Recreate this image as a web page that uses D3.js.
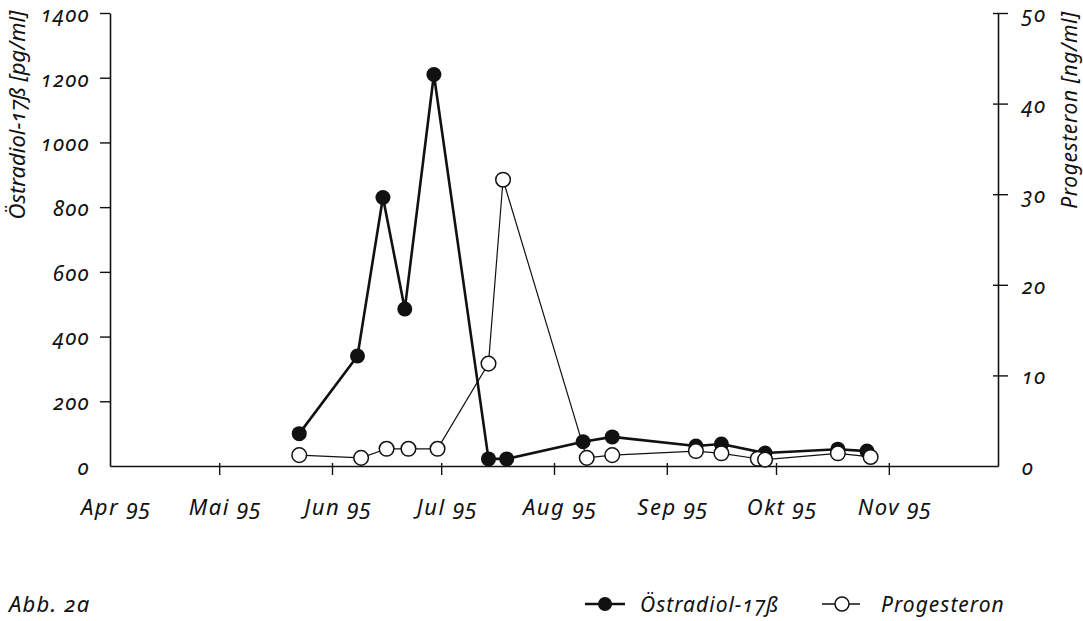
<!doctype html>
<html>
<head>
<meta charset="utf-8">
<script src="https://d3js.org/d3.v7.min.js"></script>
<style>
body { margin: 0; background: #fff; }
svg text { font-family: "Noto Sans", "Open Sans", sans-serif; font-style: italic; font-variant-numeric: oldstyle-nums; fill: #111; }
</style>
</head>
<body>
<svg id="chart" width="1083" height="621"></svg>
<script>
// data (dates 1995)
var oestDates = ["1995-05-23","1995-06-08","1995-06-15","1995-06-21","1995-06-29","1995-07-14","1995-07-19",
                 "1995-08-09","1995-08-17","1995-09-09","1995-09-16","1995-09-28","1995-10-18","1995-10-26"];
var oestValues = [100, 340, 830, 485, 1210, 22, 22, 75, 90, 62, 68, 40, 52, 46];

var progDates = ["1995-05-23","1995-06-09","1995-06-16","1995-06-22","1995-06-30","1995-07-14","1995-07-18",
                 "1995-08-10","1995-08-17","1995-09-09","1995-09-16","1995-09-26","1995-09-28","1995-10-18","1995-10-27"];
var progValues = [1.2, 0.9, 1.9, 1.9, 1.9, 11.3, 31.6, 0.9, 1.2, 1.65, 1.4, 0.8, 0.7, 1.4, 1.0];

var monthTicks = ["1995-04-01","1995-05-01","1995-06-01","1995-07-01","1995-08-01","1995-09-01","1995-10-01","1995-11-01"];
var monthLabels = ["Apr 95","Mai 95","Jun 95","Jul 95","Aug 95","Sep 95","Okt 95","Nov 95"];
var leftTicks = [0, 200, 400, 600, 800, 1000, 1200, 1400];
var rightTicks = [0, 10, 20, 30, 40, 50];

var parse = d3.timeParse("%Y-%m-%d");
var svg = d3.select("#chart");

var x = d3.scaleTime().domain([parse("1995-04-01"), parse("1995-12-01")]).range([110, 998]);
var yL = d3.scaleLinear().domain([0, 1400]).range([466, 13]);
var yR = d3.scaleLinear().domain([0, 50]).range([466, 13]);

// x axis
var gx = svg.append("g").attr("transform", "translate(0,466)")
  .call(d3.axisBottom(x).tickValues(monthTicks.map(parse)).tickSizeInner(9).tickSizeOuter(0)
    .tickFormat(function(d, i) { return monthLabels[i]; }));
gx.select(".domain").attr("stroke", "#111").attr("stroke-width", 1.6);
gx.selectAll(".tick line").attr("y1", -3).attr("stroke", "#111").attr("stroke-width", 1.4);
gx.selectAll(".tick").filter(function(d, i) { return i === 0; }).select("line").remove();
gx.selectAll(".tick text").attr("y", 49).attr("dy", 0).attr("dx", 6)
  .style("font-size", "22px").style("letter-spacing", "1.5px");

// left axis
var gl = svg.append("g").attr("transform", "translate(110,0)")
  .call(d3.axisLeft(yL).tickValues(leftTicks).tickSizeInner(10).tickSizeOuter(0).tickFormat(d3.format("d")));
gl.select(".domain").attr("stroke", "#111").attr("stroke-width", 1.6);
gl.selectAll(".tick line").attr("stroke", "#111").attr("stroke-width", 1.4);
gl.selectAll(".tick").filter(function(d) { return d === 0; }).select("line").remove();
gl.selectAll(".tick text").attr("x", -20).attr("dy", "0.4em").style("font-size", "21px").style("letter-spacing", "1.5px");

// right axis
var gr = svg.append("g").attr("transform", "translate(998,0)")
  .call(d3.axisRight(yR).tickValues(rightTicks).tickSizeInner(10).tickSizeOuter(0));
gr.select(".domain").attr("stroke", "#111").attr("stroke-width", 1.6);
gr.selectAll(".tick line").attr("x1", -5).attr("stroke", "#111").attr("stroke-width", 1.4);
gr.selectAll(".tick").filter(function(d) { return d === 0; }).select("line").remove();
gr.selectAll(".tick text").attr("x", 24).attr("dy", "0.4em").style("font-size", "21px").style("letter-spacing", "1.5px");
svg.selectAll(".tick text").attr("fill", "#111");

// axis titles
svg.append("text").attr("transform", "translate(25,115) rotate(-90)")
  .attr("text-anchor", "middle").style("font-size", "22px").text("Östradiol-17ß [pg/ml]");
svg.append("text").attr("transform", "translate(1077,110) rotate(-90)")
  .attr("text-anchor", "middle").style("font-size", "21px").style("letter-spacing", "0.6px").text("Progesteron [ng/ml]");

var oest = oestDates.map(function(d, i) { return { date: parse(d), v: oestValues[i] }; });
var prog = progDates.map(function(d, i) { return { date: parse(d), v: progValues[i] }; });

// Östradiol series
svg.append("path").datum(oest)
  .attr("fill", "none").attr("stroke", "#111").attr("stroke-width", 2.6).attr("stroke-linejoin", "round")
  .attr("d", d3.line().x(function(d) { return x(d.date); }).y(function(d) { return yL(d.v); }));
svg.append("g").selectAll("circle").data(oest).enter().append("circle")
  .attr("cx", function(d) { return x(d.date); }).attr("cy", function(d) { return yL(d.v); })
  .attr("r", 7.5).attr("fill", "#111");

// Progesteron series
svg.append("path").datum(prog)
  .attr("fill", "none").attr("stroke", "#111").attr("stroke-width", 1.2)
  .attr("d", d3.line().x(function(d) { return x(d.date); }).y(function(d) { return yR(d.v); }));
svg.append("g").selectAll("circle").data(prog).enter().append("circle")
  .attr("cx", function(d) { return x(d.date); }).attr("cy", function(d) { return yR(d.v); })
  .attr("r", 7.3).attr("fill", "#fff").attr("stroke", "#111").attr("stroke-width", 1.5);

// caption
svg.append("text").attr("x", 9).attr("y", 612).style("font-size", "22px").style("letter-spacing", "1.2px").text("Abb. 2a");

// legend
svg.append("line").attr("x1", 585).attr("x2", 625).attr("y1", 604).attr("y2", 604).attr("stroke", "#111").attr("stroke-width", 2.6);
svg.append("circle").attr("cx", 605).attr("cy", 604).attr("r", 7).attr("fill", "#111");
svg.append("text").attr("x", 640).attr("y", 612).style("font-size", "21px").style("letter-spacing", "1px").text("Östradiol-17ß");
svg.append("line").attr("x1", 822).attr("x2", 860).attr("y1", 604).attr("y2", 604).attr("stroke", "#111").attr("stroke-width", 1.4);
svg.append("circle").attr("cx", 842).attr("cy", 604).attr("r", 7).attr("fill", "#fff").attr("stroke", "#111").attr("stroke-width", 1.5);
svg.append("text").attr("x", 881).attr("y", 612).style("font-size", "21px").style("letter-spacing", "1px").text("Progesteron");
</script>
</body>
</html>
